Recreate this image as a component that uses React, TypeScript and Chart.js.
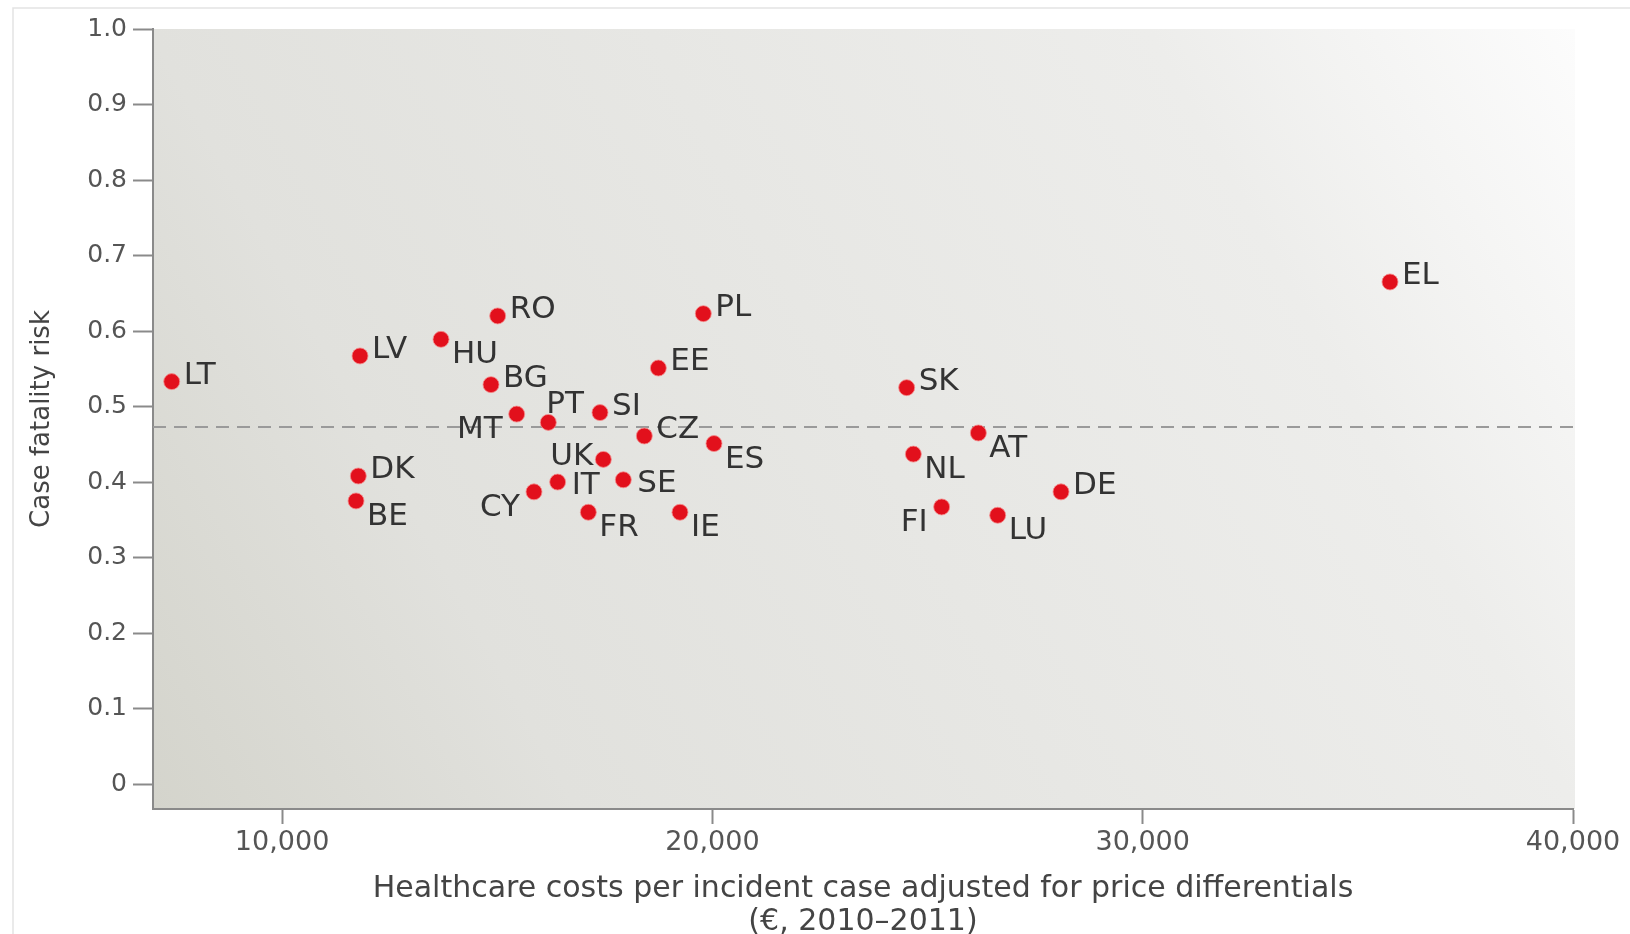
import React, { useEffect, useRef } from 'react';
import { Chart, registerables } from 'chart.js';

Chart.register(...registerables);

// ---- data ----
const countries = ['LT', 'LV', 'HU', 'RO', 'BG', 'MT', 'PT', 'SI', 'PL', 'EE', 'CZ', 'ES', 'UK', 'SE', 'IT', 'CY', 'FR', 'IE', 'DK', 'BE', 'SK', 'AT', 'NL', 'FI', 'LU', 'DE', 'EL'];
const costs = [7435, 11811, 13693, 15010, 14855, 15452, 16187, 17388, 19789, 18744, 18418, 20037, 17466, 17930, 16404, 15854, 17117, 19247, 11771, 11718, 24515, 26181, 24670, 25328, 26630, 28102, 35747];
const fatality = [0.533, 0.567, 0.589, 0.620, 0.529, 0.490, 0.479, 0.492, 0.623, 0.551, 0.461, 0.451, 0.430, 0.403, 0.400, 0.387, 0.360, 0.360, 0.408, 0.375, 0.525, 0.465, 0.437, 0.367, 0.356, 0.387, 0.665];
const averageFatality = 0.473;

const xRange = [7000, 40000];
const yRange = [-0.033, 1.0];
const xTicks = [10000, 20000, 30000, 40000];
const xTickLabels = ['10,000', '20,000', '30,000', '40,000'];
const yTicks = [0, 0.1, 0.2, 0.3, 0.4, 0.5, 0.6, 0.7, 0.8, 0.9, 1.0];
const yTickLabels = ['0', '0.1', '0.2', '0.3', '0.4', '0.5', '0.6', '0.7', '0.8', '0.9', '1.0'];

const xTitle = ['Healthcare costs per incident case adjusted for price differentials', '(€, 2010–2011)'];
const yTitle = 'Case fatality risk';

// label placement relative to each dot (ur = upper right, lr = lower right, r = right,
// ll = lower left, l = left, a = above)
const labelSide = ['ur', 'ur', 'lr', 'ur', 'ur', 'll', 'a', 'ur', 'ur', 'ur', 'ur', 'lr', 'l', 'r', 'r', 'll', 'lr', 'lr', 'ur', 'lr', 'ur', 'lr', 'lr', 'll', 'lr', 'ur', 'ur'];

const FONT = '"DejaVu Sans", "Open Sans", sans-serif';

const backgroundPlugin = {
  id: 'bgPlot',
  beforeDraw(chart: any) {
    const { ctx, chartArea, width, height } = chart;
    ctx.save();
    ctx.fillStyle = '#ffffff';
    ctx.fillRect(0, 0, width, height);
    // faint frame
    ctx.strokeStyle = '#e3e3e3';
    ctx.lineWidth = 1.5;
    ctx.beginPath();
    ctx.moveTo(13, height);
    ctx.lineTo(13, 8);
    ctx.lineTo(width, 8);
    ctx.stroke();
    // gradient plot area
    const { left, right, top, bottom } = chartArea;
    const g = ctx.createLinearGradient(left, bottom, right, top);
    g.addColorStop(0, '#d4d4cc');
    g.addColorStop(0.23, '#e1e1dd');
    g.addColorStop(0.77, '#ededeb');
    g.addColorStop(1, '#fcfcfc');
    ctx.fillStyle = g;
    ctx.fillRect(left, top, right - left + 2, bottom - top);
    ctx.restore();
  },
};

const labelPlugin = {
  id: 'countryLabels',
  afterDatasetsDraw(chart: any) {
    const meta = chart.getDatasetMeta(1);
    const ctx = chart.ctx;
    ctx.save();
    ctx.font = `31px ${FONT}`;
    ctx.fillStyle = '#333333';
    ctx.textBaseline = 'alphabetic';
    meta.data.forEach((pt: any, i: number) => {
      const { x, y } = pt;
      let tx = x, ty = y, align: CanvasTextAlign = 'left';
      switch (labelSide[i]) {
        case 'ur': tx = x + 12; ty = y + 2; align = 'left'; break;
        case 'lr': tx = x + 11; ty = y + 24; align = 'left'; break;
        case 'r': tx = x + 14; ty = y + 12; align = 'left'; break;
        case 'll': tx = x - 14; ty = y + 24; align = 'right'; break;
        case 'l': tx = x - 10; ty = y + 6; align = 'right'; break;
        case 'a': tx = x - 2; ty = y - 9; align = 'left'; break;
      }
      ctx.textAlign = align;
      ctx.fillText(countries[i], tx, ty);
    });
    ctx.restore();
  },
};

export default function App() {
  const canvasRef = useRef<HTMLCanvasElement | null>(null);

  useEffect(() => {
    document.body.style.margin = '0';
    const canvas = canvasRef.current;
    if (!canvas) return;

    const points = costs.map((c, i) => ({ x: c, y: fatality[i] }));
    const avgLine = [
      { x: xRange[0], y: averageFatality },
      { x: xRange[1], y: averageFatality },
    ];

    const chart = new Chart(canvas, {
      type: 'scatter',
      data: {
        datasets: [
          {
            type: 'line',
            label: 'average',
            data: avgLine,
            borderColor: '#9a9a9a',
            borderWidth: 2,
            borderDash: [13, 8],
            pointRadius: 0,
            fill: false,
            order: 2,
          } as any,
          {
            label: 'countries',
            data: points,
            backgroundColor: '#e2101c',
            borderColor: 'rgba(245,140,140,0.8)',
            borderWidth: 1,
            pointRadius: 8,
            pointHoverRadius: 8,
            order: 1,
          },
        ],
      },
      options: {
        animation: false,
        responsive: false,
        maintainAspectRatio: false,
        events: [],
        layout: { padding: { left: 0, top: 29, right: 57, bottom: 0 } },
        plugins: {
          legend: { display: false },
          tooltip: { enabled: false },
        },
        scales: {
          x: {
            type: 'linear',
            min: xRange[0],
            max: xRange[1],
            afterBuildTicks: (scale: any) => {
              scale.ticks = xTicks.map((v) => ({ value: v }));
            },
            afterFit: (scale: any) => {
              scale.height = 125;
            },
            ticks: {
              callback: (_v: any, i: number) => xTickLabels[i],
              font: { family: FONT, size: 27 },
              color: '#555555',
              padding: 3,
              maxRotation: 0,
              autoSkip: false,
            },
            grid: {
              drawOnChartArea: false,
              drawTicks: true,
              tickLength: 15,
              tickWidth: 2,
              tickColor: '#8a8a8a',
            },
            border: { display: true, color: '#8a8a8a', width: 2 },
            title: {
              display: true,
              text: xTitle,
              font: { family: FONT, size: 30, lineHeight: 1.1 },
              color: '#444444',
              padding: { top: 0, bottom: -5 },
            },
          },
          y: {
            type: 'linear',
            min: yRange[0],
            max: yRange[1],
            afterBuildTicks: (scale: any) => {
              scale.ticks = yTicks.map((v) => ({ value: v }));
            },
            afterFit: (scale: any) => {
              scale.width = 153;
            },
            ticks: {
              callback: (_v: any, i: number) => yTickLabels[i],
              font: { family: FONT, size: 25 },
              color: '#555555',
              padding: 6,
              autoSkip: false,
            },
            grid: {
              drawOnChartArea: false,
              drawTicks: true,
              tickLength: 20,
              tickWidth: 2,
              tickColor: '#8a8a8a',
            },
            border: { display: true, color: '#8a8a8a', width: 2 },
            title: {
              display: true,
              text: yTitle,
              font: { family: FONT, size: 26, lineHeight: 1.2 },
              color: '#444444',
              padding: { top: 27, bottom: 0 },
            },
          },
        },
      },
      plugins: [backgroundPlugin, labelPlugin],
    });

    return () => {
      chart.destroy();
    };
  }, []);

  return (
    <div style={{ width: 1630, height: 934 }}>
      <canvas ref={canvasRef} width={1630} height={934} style={{ display: 'block' }} />
    </div>
  );
}
